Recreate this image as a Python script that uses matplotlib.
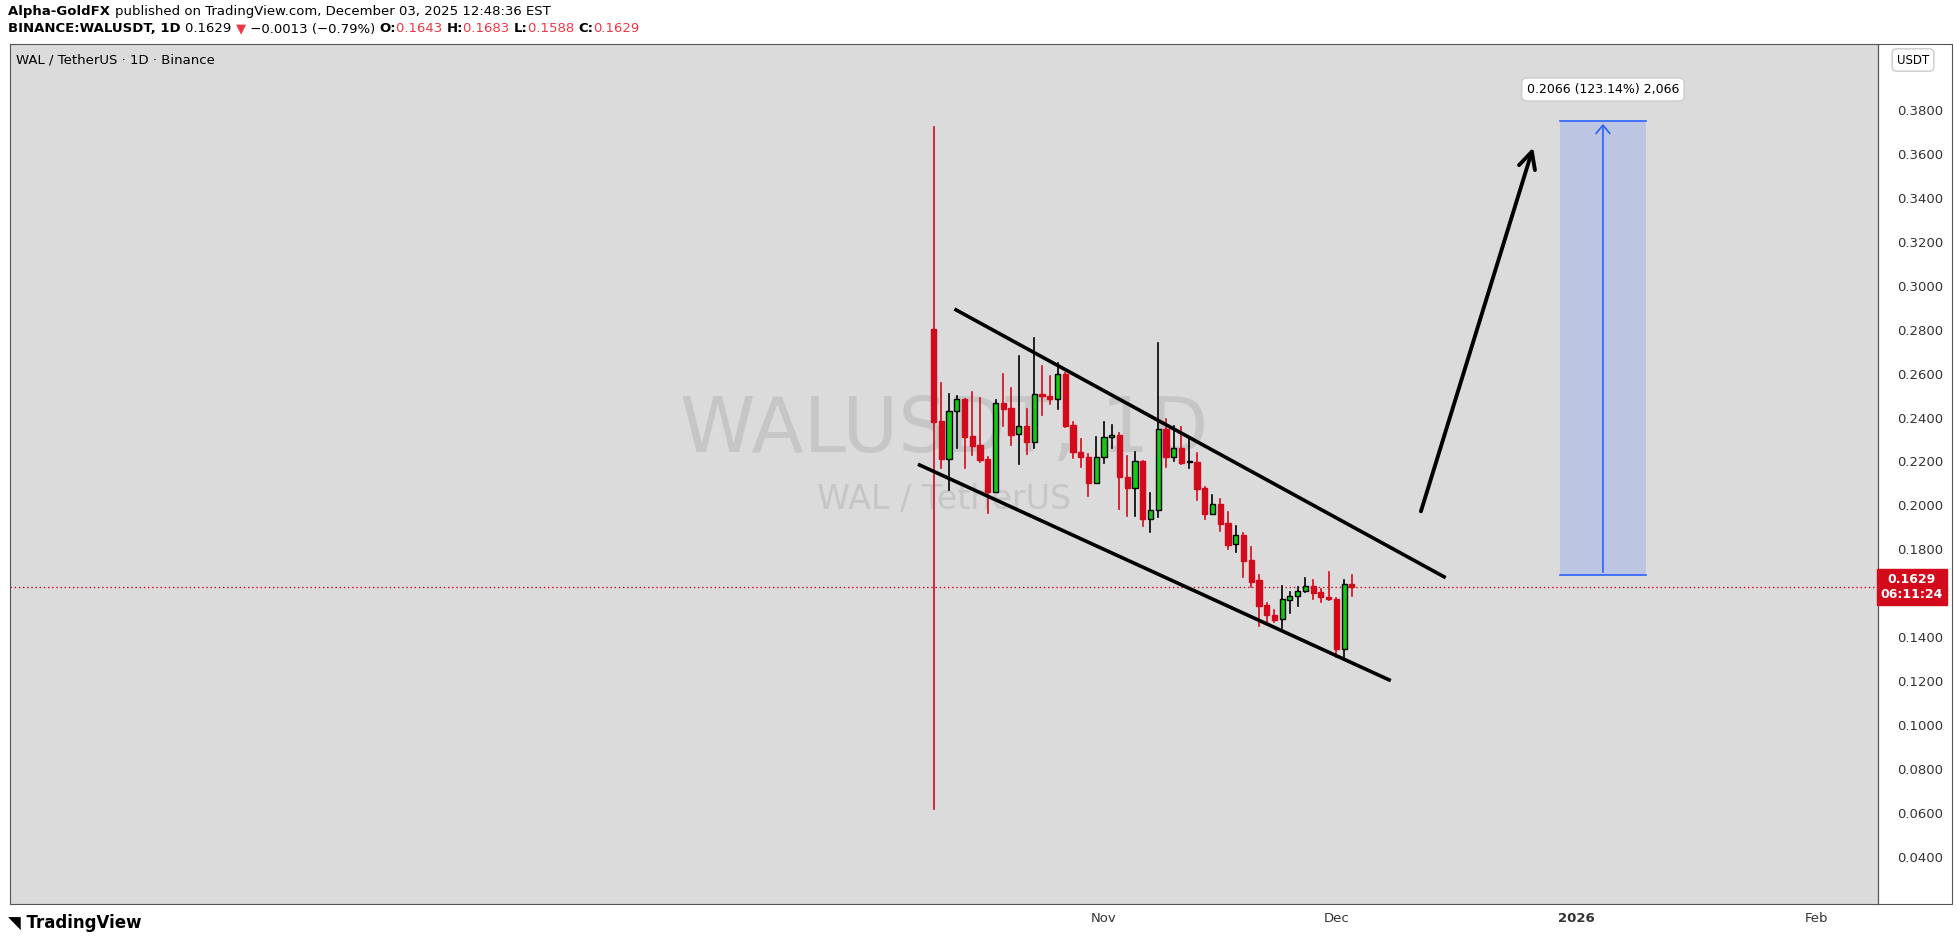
import matplotlib
matplotlib.use("Agg")
import matplotlib.pyplot as plt
from matplotlib.patches import Rectangle
import numpy as np

opens  = [.2803,.2384,.2213,.2428,.2484,.2316,.2275,.2211,.2060,.2465,.2443,.2324,.2362,.2290,.2506,.2498,.2483,.2598,.2365,.2245,.2222,.2101,.2219,.2313,.2321,.2131,.2081,.2201,.1938,.1978,.2346,.2222,.2260,.2196,.2196,.2078,.1963,.2008,.1920,.1823,.1864,.1752,.1661,.1548,.1501,.1482,.1570,.1588,.1611,.1633,.1605,.1582,.1574,.1345,.1643]
closes = [.2380,.2213,.2430,.2484,.2313,.2272,.2205,.2060,.2465,.2440,.2322,.2360,.2290,.2506,.2500,.2483,.2598,.2363,.2245,.2222,.2101,.2219,.2310,.2319,.2131,.2081,.2201,.1938,.1978,.2346,.2222,.2260,.2192,.2197,.2077,.1963,.2008,.1917,.1820,.1864,.1747,.1653,.1544,.1500,.1479,.1573,.1588,.1611,.1633,.1603,.1582,.1573,.1345,.1641,.1629]
highs  = [.3720,.2559,.2507,.2500,.2484,.2518,.2489,.2222,.2480,.2598,.2533,.2680,.2439,.2761,.2635,.2589,.2647,.2604,.2378,.2301,.2234,.2313,.2378,.2365,.2328,.2227,.2242,.2204,.2057,.2738,.2393,.2363,.2359,.2308,.2237,.2086,.2048,.2028,.1970,.1906,.1876,.1809,.1684,.1555,.1524,.1633,.1608,.1627,.1671,.1661,.1618,.1696,.1580,.1661,.1683]
lows   = [.0620,.2172,.2070,.2263,.2172,.2230,.2199,.1967,.2060,.2363,.2275,.2187,.2236,.2263,.2412,.2462,.2437,.2359,.2217,.2177,.2045,.2101,.2195,.2263,.1985,.1954,.1954,.1908,.1881,.1949,.2177,.2202,.2187,.2172,.2025,.1938,.1963,.1884,.1802,.1790,.1676,.1630,.1453,.1464,.1471,.1444,.1509,.1542,.1605,.1574,.1562,.1570,.1309,.1301,.1588]
price_ticks = [0.04,0.06,0.08,0.10,0.12,0.14,0.18,0.20,0.22,0.24,0.26,0.28,0.30,0.32,0.34,0.36,0.38]
date_ticks = [22, 52, 83, 114]
date_labels = ["Nov", "Dec", "2026", "Feb"]
upper_line = ([2.9, 65.9], [0.2890, 0.1675])
lower_line = ([-1.8, 58.8], [0.2184, 0.1206])
arrow_pts = ([62.8, 77.5], [0.1961, 0.3641])
box_x = (80.9, 91.9)
box_y = (0.1683, 0.3749)
last_price = 0.1629

W, H = 1957, 941
fig = plt.figure(figsize=(W/100, H/100), dpi=100)
fig.patch.set_facecolor("white")
L, R, T, B = 10, 1878, 44, 904
ax = fig.add_axes([L/W, 1-B/H, (R-L)/W, (B-T)/H])
ax.set_facecolor("#dbdbdb")
ax.set_xlim(-119.2, 121.9)
ax.set_ylim(0.0186, 0.410)

GREEN, RED = "#14c814", "#d3091c"
for i,(o,c,h,l) in enumerate(zip(opens,closes,highs,lows)):
    up = c >= o
    col = GREEN if up else RED
    wc = "black" if up else RED
    ax.plot([i,i],[l,h], color=wc, lw=1.2, zorder=3)
    ax.add_patch(Rectangle((i-0.33, min(o,c)), 0.66, max(abs(c-o), 0.0004),
                           facecolor=col, edgecolor="black" if up else RED, lw=1.0, zorder=4))

ax.plot(*upper_line, color="black", lw=2.6, zorder=5)
ax.plot(*lower_line, color="black", lw=2.6, zorder=5)
ax.annotate("", xy=(arrow_pts[0][1], arrow_pts[1][1]), xytext=(arrow_pts[0][0], arrow_pts[1][0]),
            arrowprops=dict(arrowstyle="->,head_length=1.2,head_width=0.6", color="black", lw=2.8), zorder=6)

ax.add_patch(Rectangle((box_x[0], box_y[0]), box_x[1]-box_x[0], box_y[1]-box_y[0],
                       facecolor="#bcc6e3", edgecolor="none", zorder=2))
mx = (box_x[0]+box_x[1])/2
ax.plot(box_x, [box_y[0]]*2, color="#2962ff", lw=1.2, zorder=3)
ax.plot(box_x, [box_y[1]]*2, color="#2962ff", lw=1.2, zorder=3)
ax.annotate("", xy=(mx, box_y[1]), xytext=(mx, box_y[0]),
            arrowprops=dict(arrowstyle="->,head_length=0.6,head_width=0.5", color="#2962ff", lw=1.2), zorder=4)
ax.text(mx, 0.3893, "0.2066 (123.14%) 2,066", ha="center", va="center", fontsize=9,
        bbox=dict(boxstyle="round,pad=0.4", fc="white", ec="#cccccc"), zorder=7)

ax.axhline(last_price, color=RED, lw=1, ls=(0,(1,2)), zorder=1)

ax.text(1.4, 0.2339, "WALUSDT, 1D", ha="center", va="center", fontsize=55, color="#c6c6c6", zorder=0)
ax.text(1.4, 0.2025, "WAL / TetherUS", ha="center", va="center", fontsize=24, color="#c6c6c6", zorder=0)

ax.set_yticks(price_ticks)
ax.set_yticklabels([f"{p:.4f}" for p in price_ticks])
ax.yaxis.tick_right()
ax.set_xticks(date_ticks)
ax.set_xticklabels(date_labels)
ax.tick_params(length=0, labelsize=9.5, colors="#333333")
ax.tick_params(axis="y", pad=14)
ax.tick_params(axis="x", pad=6)
for lab in ax.get_xticklabels():
    if lab.get_text() == "2026":
        lab.set_fontweight("bold")
for s in ax.spines.values():
    s.set_color("#555555"); s.set_linewidth(0.8)

fig.add_artist(Rectangle((R/W, 1-B/H), (1952-R)/W, (B-T)/H, transform=fig.transFigure,
                         fill=False, ec="#555555", lw=0.8))
fig.text(1912/W, ax.transData.transform((0, last_price))[1]/H, "0.1629\n06:11:24",
         ha="center", va="center", fontsize=9, color="white", fontweight="bold",
         bbox=dict(boxstyle="square,pad=0.3", fc=RED, ec=RED))
fig.text(1913/W, 1-60/H, "USDT", ha="center", va="center", fontsize=8.5,
         bbox=dict(boxstyle="round,pad=0.4", fc="white", ec="#cccccc"))

renderer = fig.canvas.get_renderer()
def line(y, pieces, x=8):
    for txt, kw in pieces:
        t = fig.text(x/W, 1-y/H, txt, fontsize=9.5, va="center", **kw)
        x += t.get_window_extent(renderer).width
    return x
line(12, [("Alpha-GoldFX ", dict(fontweight="bold")),
          ("published on TradingView.com, December 03, 2025 12:48:36 EST", {})])
line(29, [("BINANCE:WALUSDT, 1D ", dict(fontweight="bold")),
          ("0.1629 ", {}), ("▼", dict(color="#f23645")), (" −0.0013 (−0.79%) ", {}),
          ("O:", dict(fontweight="bold")), ("0.1643 ", dict(color="#f23645")),
          ("H:", dict(fontweight="bold")), ("0.1683 ", dict(color="#f23645")),
          ("L:", dict(fontweight="bold")), ("0.1588 ", dict(color="#f23645")),
          ("C:", dict(fontweight="bold")), ("0.1629", dict(color="#f23645"))])
fig.text(16/W, 1-60/H, "WAL / TetherUS · 1D · Binance", fontsize=9.5, va="center")
fig.text(8/W, 1-923/H, "◥ TradingView", fontsize=12, fontweight="bold", va="center")

fig.savefig("out.png", dpi=100, facecolor="white")
